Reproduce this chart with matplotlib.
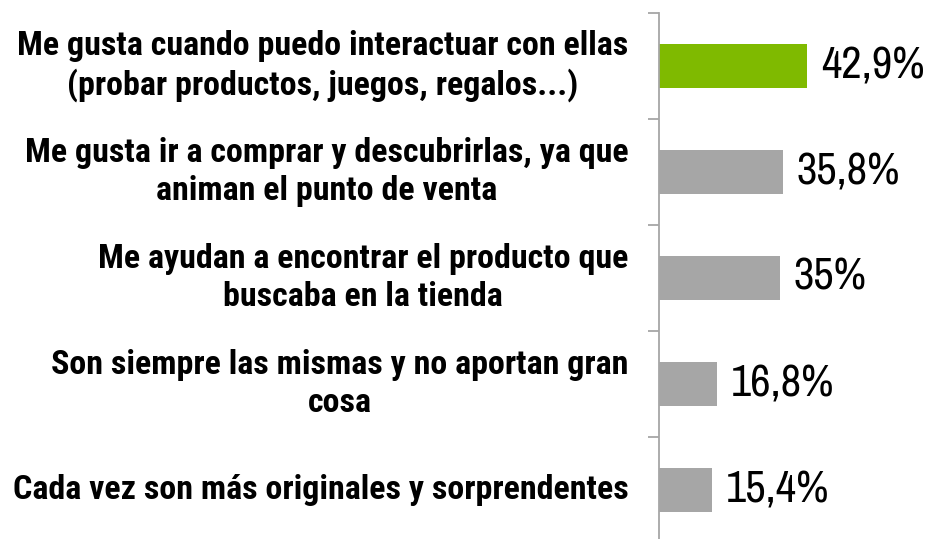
import matplotlib.pyplot as plt
from matplotlib import font_manager

categorias = [
    'Me gusta cuando puedo interactuar con ellas\n(probar productos, juegos, regalos...)',
    'Me gusta ir a comprar y descubrirlas, ya que\naniman el punto de venta',
    'Me ayudan a encontrar el producto que\nbuscaba en la tienda',
    'Son siempre las mismas y no aportan gran\ncosa',
    'Cada vez son más originales y sorprendentes',
]
valores = [42.9, 35.8, 35.0, 16.8, 15.4]
etiquetas = ['42,9%', '35,8%', '35%', '16,8%', '15,4%']
colores = ['#7fba00', '#a6a6a6', '#a6a6a6', '#a6a6a6', '#a6a6a6']

nombres = {f.name for f in font_manager.fontManager.ttflist}


def elegir(opciones):
    return [n for n in opciones if n in nombres] + ['DejaVu Sans']


fuente_cat = elegir(['Roboto Condensed', 'Archivo Narrow', 'Sofia Sans Condensed'])
fuente_val = elegir(['Archivo Narrow', 'Roboto Condensed'])

fig = plt.figure(figsize=(9.34, 5.39), dpi=100)
ax = fig.add_axes([659 / 934, -4 / 539, 275 / 934, 530 / 539])

y = list(range(len(valores)))
ax.barh(y, valores, height=0.41, color=colores)
ax.set_ylim(len(valores) - 0.5, -0.5)
ax.set_xlim(0, 79.5)

for yi, v, t in zip(y, valores, etiquetas):
    ax.annotate(t, (v, yi), xytext=(10, 0), textcoords='offset points',
                va='center', ha='left', fontsize=32, family=fuente_val,
                color='black')

for yi, c in zip(y, categorias):
    ax.annotate(c, (0, yi), xycoords=('axes fraction', 'data'),
                xytext=(-22, 0), textcoords='offset points',
                ha='right', va='center', multialignment='center',
                fontsize=24.5, family=fuente_cat, fontweight='bold',
                linespacing=1.25)

ax.set_yticks([i - 0.5 for i in range(len(valores) + 1)])
ax.set_yticklabels([])
ax.tick_params(axis='y', length=8, color='#a6a6a6', width=1.3)
ax.set_xticks([])
for s in ['top', 'right', 'bottom']:
    ax.spines[s].set_visible(False)
ax.spines['left'].set_color('#a6a6a6')
ax.spines['left'].set_linewidth(1.3)

fig.savefig('out.png', dpi=100)
